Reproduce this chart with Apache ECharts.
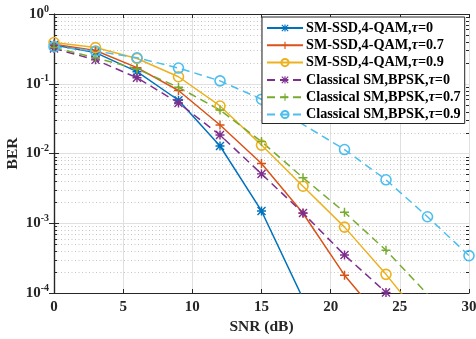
<!DOCTYPE html>
<html><head><meta charset="utf-8">
<script src="https://cdn.jsdelivr.net/npm/echarts@6/dist/echarts.min.js"></script>
<style>html,body{margin:0;padding:0;background:#fff}#c{width:476px;height:339px}</style>
</head><body><div id="c"></div>
<script>
var snr = [0, 3, 6, 9, 12, 15, 18, 21, 24, 27, 30];
var ssdTau0  = [0.36, 0.28, 0.149, 0.058, 0.0128, 0.0015, 8.3e-5];
var ssdTau07 = [0.37, 0.30, 0.17, 0.08, 0.0256, 0.0072, 0.00139, 0.00018, 3.5e-5];
var ssdTau09 = [0.39, 0.33, 0.23, 0.126, 0.048, 0.0132, 0.0034, 0.00088, 0.000185, 3.4e-5];
var csmTau0  = [0.32, 0.22, 0.122, 0.053, 0.0184, 0.0051, 0.0014, 0.00035, 0.000102, 2.9e-5];
var csmTau07 = [0.33, 0.236, 0.163, 0.089, 0.042, 0.0148, 0.0045, 0.00144, 0.00041, 9.6e-5, 2e-5];
var csmTau09 = [0.34, 0.295, 0.236, 0.168, 0.11, 0.06, null, 0.0114, 0.0042, 0.00124, 0.000343];
var seriesNames = ['SM-SSD,4-QAM,\u03c4=0', 'SM-SSD,4-QAM,\u03c4=0.7', 'SM-SSD,4-QAM,\u03c4=0.9',
  'Classical SM,BPSK,\u03c4=0', 'Classical SM,BPSK,\u03c4=0.7', 'Classical SM,BPSK,\u03c4=0.9'];
var yMinor = [];
[1e-4, 1e-3, 1e-2, 1e-1].forEach(function (d) { for (var k = 2; k <= 9; k++) yMinor.push(+(d * k).toPrecision(3)); });

var FF = 'Liberation Serif';
var AX = '#262626';
var LF = 14.2;
function zip(v) { return v.map(function (y, i) { return [snr[i], y]; }).filter(function (p) { return p[1] !== null; }); }
var star = 'path://M4.2,0h1.6v10h-1.6z M0,4.2h10v1.6h-10z M1.1,0L10,8.9L8.9,10L0,1.1z M8.9,0L10,1.1L1.1,10L0,8.9z';
var plus = 'path://M4.2,0h1.6v4.2h4.2v1.6h-4.2v4.2h-1.6v-4.2h-4.2v-1.6h4.2z';
function mk(name, data, color, dashed, symbol, size, open) {
  return {
    name: name, type: 'line', data: zip(data), xAxisIndex: 0, yAxisIndex: 0,
    symbol: symbol, symbolSize: size, showSymbol: true, clip: true, z: 3,
    lineStyle: { color: color, width: 1.5, type: dashed ? [8, 5] : 'solid' },
    itemStyle: open ? { color: 'rgba(0,0,0,0)', borderColor: color, borderWidth: 1.6 } : { color: color, borderWidth: 0 },
    emphasis: { disabled: true }, animation: false
  };
}
var chart = echarts.init(document.getElementById('c'), null, { renderer: 'canvas' });
chart.setOption({
  animation: false,
  backgroundColor: '#fff',
  grid: { left: 54, right: 7, top: 14, bottom: 46, containLabel: false, outerBoundsMode: 'none' },
  legend: {
    orient: 'vertical', left: 262, top: 17, data: seriesNames,
    backgroundColor: '#fff', borderColor: AX, borderWidth: 1, borderRadius: 0,
    padding: [3, 4, 1, 4], itemWidth: 36, itemHeight: 9, itemGap: 1.3,
    textStyle: { fontFamily: FF, fontWeight: 'bold', fontSize: LF, lineHeight: 16, color: '#000', padding: [0, 0, 0, -2],
      rich: { i: { fontFamily: FF, fontStyle: 'italic', fontWeight: 'bold', fontSize: LF, lineHeight: 16, color: '#000' },
              n: { fontFamily: FF, fontWeight: 'bold', fontSize: LF, lineHeight: 16, color: '#000' } } },
    formatter: function (n) { var p = n.split('\u03c4'); return '{n|' + p[0] + '}{i|\u03c4}{n|' + p[1] + '}'; }
  },
  xAxis: [{
    type: 'value', min: 0, max: 30, interval: 5, position: 'bottom',
    name: 'SNR (dB)', nameLocation: 'middle', nameGap: 26, nameMoveOverlap: false,
    nameTextStyle: { fontFamily: FF, fontWeight: 'bold', fontSize: 15.5, color: AX },
    axisLine: { lineStyle: { color: AX, width: 1.2 } },
    axisTick: { inside: true, length: 4, lineStyle: { color: AX } },
    axisLabel: { fontFamily: FF, fontWeight: 'bold', fontSize: 15, color: AX, margin: 7, hideOverlap: false },
    splitLine: { show: true, lineStyle: { color: '#e0e0e0', width: 1 } }
  }, {
    type: 'value', min: 0, max: 30, interval: 5, position: 'top',
    axisLine: { show: true, lineStyle: { color: AX, width: 1.2 } },
    axisTick: { show: true, inside: true, length: 4, lineStyle: { color: AX } },
    axisLabel: { show: false }, splitLine: { show: false }
  }],
  yAxis: [{
    type: 'log', logBase: 10, min: 1e-4, max: 1, position: 'left',
    name: 'BER', nameLocation: 'middle', nameGap: 33, nameMoveOverlap: false,
    nameTextStyle: { fontFamily: FF, fontWeight: 'bold', fontSize: 15.5, color: AX },
    axisLine: { show: true, lineStyle: { color: AX, width: 1.2 } },
    axisTick: { show: true, inside: true, length: 5, lineStyle: { color: AX } },
    axisLabel: {
      margin: 5,
      formatter: function (v) { return '{b|10}{s|' + Math.round(Math.log10(v)) + '}'; },
      rich: { b: { fontFamily: FF, fontWeight: 'bold', fontSize: 15, color: AX, lineHeight: 18 },
              s: { fontFamily: FF, fontWeight: 'bold', fontSize: 10, color: AX, padding: [0, 0, 10, 0], lineHeight: 18 } }
    },
    splitLine: { show: true, lineStyle: { color: '#e0e0e0', width: 1 } }
  }, {
    type: 'log', logBase: 10, min: 1e-4, max: 1, position: 'right',
    axisLine: { show: true, lineStyle: { color: AX, width: 1.2 } },
    axisTick: { show: true, inside: true, length: 5, lineStyle: { color: AX } },
    axisLabel: { show: false }, splitLine: { show: false }
  }],
  series: [
    {
      type: 'custom', name: 'minor', xAxisIndex: 0, yAxisIndex: 0, z: 1, silent: true, clip: false,
      data: yMinor.map(function (v) { return [0, v]; }),
      renderItem: function (params, api) {
        var v = api.value(1);
        var a = api.coord([0, v]), b = api.coord([30, v]);
        var y = Math.round(a[1]) + 0.5;
        return { type: 'group', children: [
          { type: 'line', shape: { x1: a[0], y1: y, x2: b[0], y2: y }, style: { stroke: '#c4c4c4', lineWidth: 1, lineDash: [1, 2.5] } },
          { type: 'line', shape: { x1: a[0], y1: y, x2: a[0] + 3, y2: y }, style: { stroke: AX, lineWidth: 1 } },
          { type: 'line', shape: { x1: b[0], y1: y, x2: b[0] - 3, y2: y }, style: { stroke: AX, lineWidth: 1 } }
        ] };
      }
    },
    mk(seriesNames[0], ssdTau0, '#0072BD', false, star, 9, false),
    mk(seriesNames[1], ssdTau07, '#D95319', false, plus, 9, false),
    mk(seriesNames[2], ssdTau09, '#EDB120', false, 'circle', 10, true),
    mk(seriesNames[3], csmTau0, '#7E2F8E', true, star, 9, false),
    mk(seriesNames[4], csmTau07, '#77AC30', true, plus, 9, false),
    mk(seriesNames[5], csmTau09, '#4DBEEE', true, 'circle', 10, true)
  ]
});
</script></body></html>
